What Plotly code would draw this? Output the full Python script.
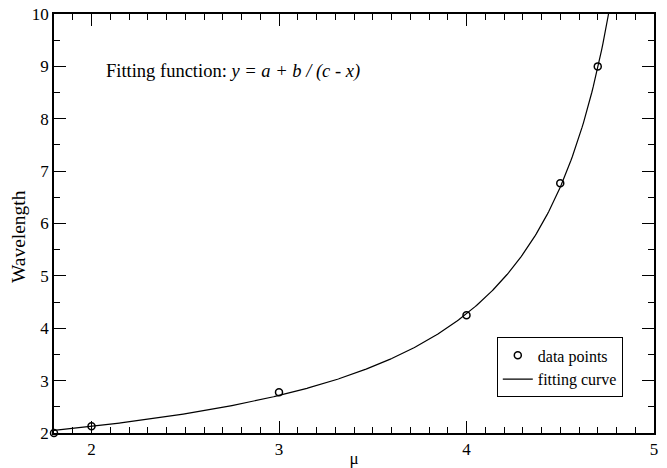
import numpy as np
import plotly.graph_objects as go

# Measured wavelength against mu
mu_values = [1.8, 2.0, 3.0, 4.0, 4.5, 4.7]
wavelength_values = [2.0, 2.13, 2.78, 4.25, 6.77, 9.0]

# Parameters of the fitted model y = a + b / (c - x)
fit_a = 0.82
fit_b = 4.2
fit_c = 5.215

x_range = [1.8, 5.0]
y_range = [2.0, 10.0]

# Evaluate the fitted curve up to where it leaves the plotting window
x_top = fit_c - fit_b / (y_range[1] - fit_a)
x_fit = np.linspace(x_range[0], x_top, 400)
y_fit = fit_a + fit_b / (fit_c - x_fit)

FONT = "Liberation Serif, Times New Roman, serif"

fig = go.Figure()
fig.add_trace(go.Scatter(
    x=mu_values, y=wavelength_values, mode="markers", name="data points",
    marker=dict(symbol="circle-open", size=7, color="black", line=dict(width=1.5, color="black")),
    cliponaxis=False,
))
fig.add_trace(go.Scatter(
    x=x_fit, y=y_fit, mode="lines", name="fitting curve",
    line=dict(color="black", width=1.2),
))

axis_common = dict(
    showgrid=False, zeroline=False, showline=True, linecolor="black", linewidth=1.5,
    mirror="ticks", ticks="inside", ticklen=12, tickwidth=1, tickcolor="black",
    tickfont=dict(family=FONT, size=17, color="black"), automargin=False,
)

fig.update_xaxes(
    range=x_range, tick0=1, dtick=1,
    minor=dict(ticks="inside", dtick=0.1, tick0=1, ticklen=6, tickcolor="black", tickwidth=1, showgrid=False),
    title=dict(text="μ", font=dict(family=FONT, size=17, color="black"), standoff=0),
    **axis_common,
)
fig.update_yaxes(
    range=y_range, tick0=2, dtick=1, ticklabelstandoff=0,
    minor=dict(ticks="inside", dtick=0.5, tick0=2, ticklen=6, tickcolor="black", tickwidth=1, showgrid=False),
    **axis_common,
)

# Vertical axis label
fig.add_annotation(
    xref="paper", yref="paper", x=-0.058, y=0.468, xanchor="center", yanchor="middle",
    text="Wavelength", textangle=-90, showarrow=False,
    font=dict(family=FONT, size=19.5, color="black"),
)

fig.add_annotation(
    xref="paper", yref="paper", x=0.083, y=0.862, xanchor="left", yanchor="middle",
    text="Fitting function: <i>y = a + b / (c - x)</i>", showarrow=False,
    font=dict(family=FONT, size=18.5, color="black"),
)

fig.update_layout(
    width=667, height=468,
    margin=dict(l=54, r=13, t=14, b=35),
    paper_bgcolor="white", plot_bgcolor="white",
    showlegend=True,
    legend=dict(
        x=0.948, y=0.085, xanchor="right", yanchor="bottom",
        bordercolor="black", borderwidth=1, bgcolor="white",
        font=dict(family=FONT, size=16, color="black"),
        itemwidth=30, tracegroupgap=0,
    ),
)

fig.write_html("out.html")
